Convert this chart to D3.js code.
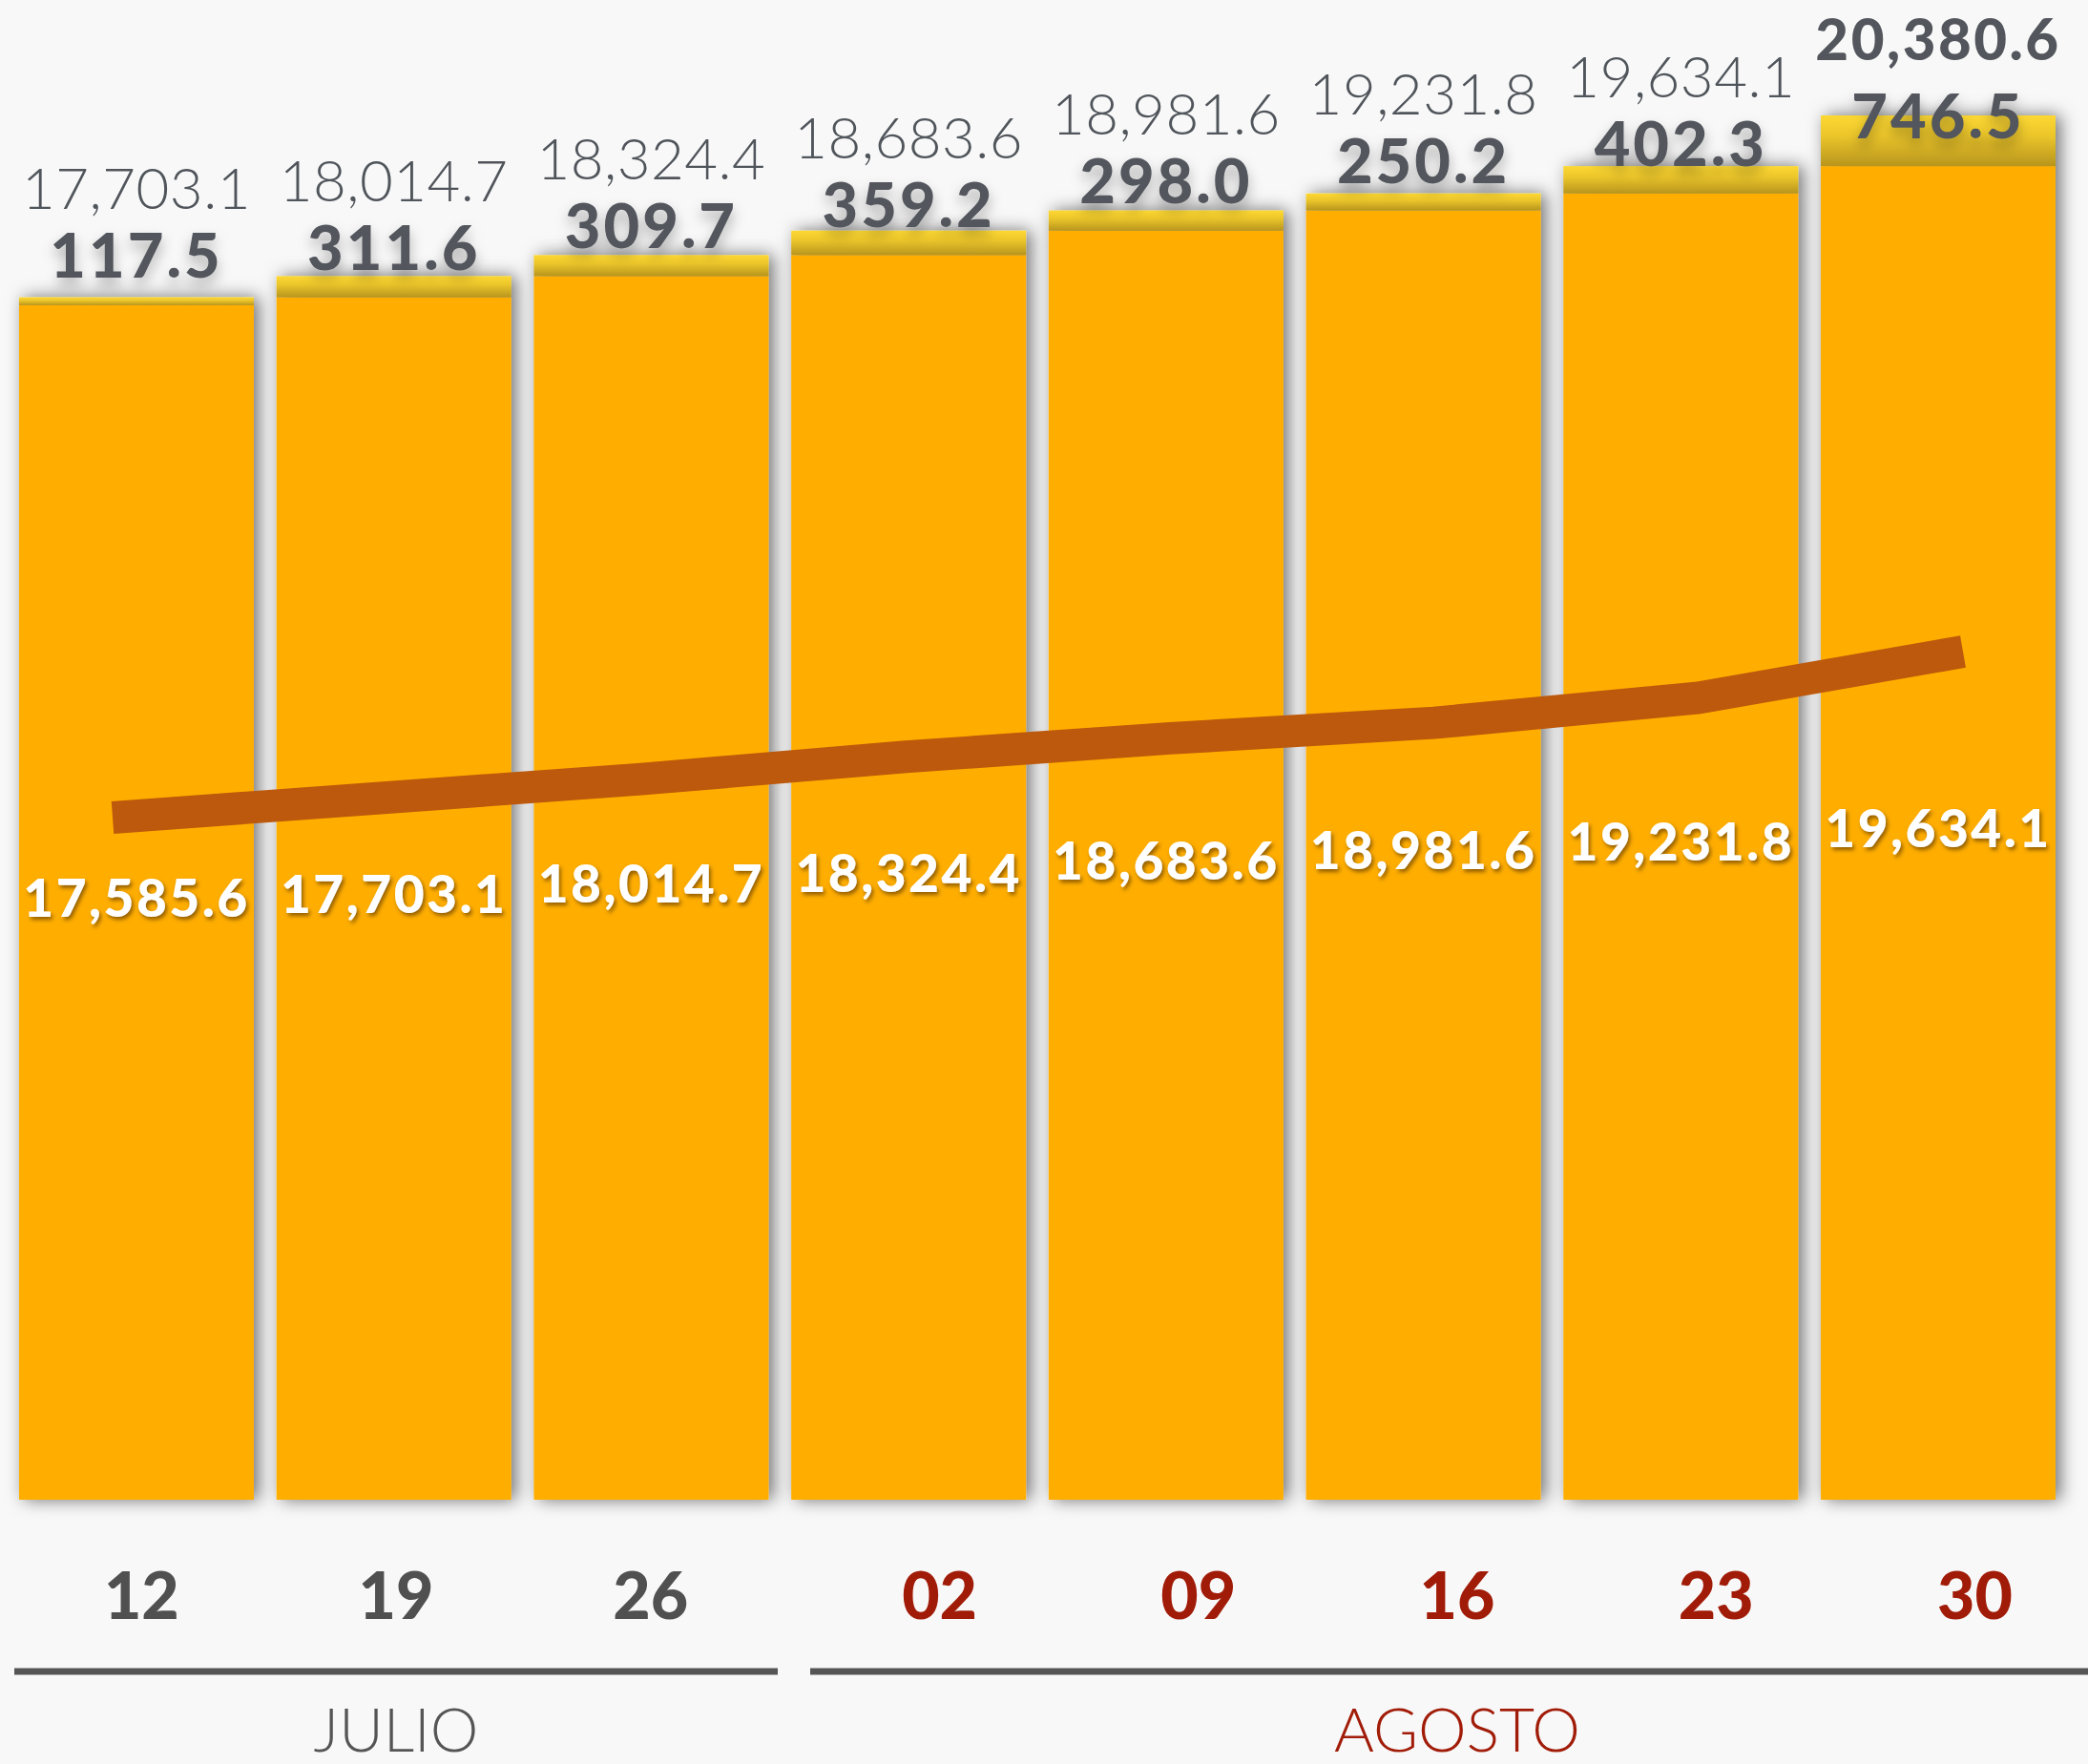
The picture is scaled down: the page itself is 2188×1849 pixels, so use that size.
<!DOCTYPE html>
<html>
<head>
<meta charset="utf-8">
<script src="https://cdn.jsdelivr.net/npm/d3@7/dist/d3.min.js"></script>
<style>
  html, body { margin: 0; padding: 0; background: #f8f8f8; }
  svg { display: block; }
  text { font-family: Lato, "Open Sans", sans-serif; }
</style>
</head>
<body>
<svg id="chart" width="2188" height="1849"></svg>
<script>
// weekly days (x categories)
const days = ['12', '19', '26', '02', '09', '16', '23', '30'];
const months = ['JULIO', 'AGOSTO'];
const monthDays = [['12', '19', '26'], ['02', '09', '16', '23', '30']];

// previous total (orange part), weekly increment (yellow part), new total
const baseValues = [17585.6, 17703.1, 18014.7, 18324.4, 18683.6, 18981.6, 19231.8, 19634.1];
const increments = [117.5, 311.6, 309.7, 359.2, 298.0, 250.2, 402.3, 746.5];
const totals = [17703.1, 18014.7, 18324.4, 18683.6, 18981.6, 19231.8, 19634.1, 20380.6];

const W = 2188, H = 1849;
const orange = '#ffae00';
const brown = '#bd590c';
const gray = '#53575d';
const red = '#a11c08';
const fmt = d3.format(',.1f');

const svg = d3.select('#chart');
svg.append('rect').attr('width', W).attr('height', H).attr('fill', '#f8f8f8');

const defs = svg.append('defs');

const barShadow = defs.append('filter').attr('id', 'barShadow')
    .attr('x', '-20%').attr('y', '-20%').attr('width', '140%').attr('height', '140%');
barShadow.append('feDropShadow')
    .attr('dx', 5).attr('dy', 0).attr('stdDeviation', 9)
    .attr('flood-color', '#000').attr('flood-opacity', 0.55);

const labelShadow = defs.append('filter').attr('id', 'labelShadow')
    .attr('x', '-20%').attr('y', '-30%').attr('width', '140%').attr('height', '180%');
labelShadow.append('feDropShadow')
    .attr('dx', 0).attr('dy', 8).attr('stdDeviation', 7)
    .attr('flood-color', '#000').attr('flood-opacity', 0.3);

const whiteShadow = defs.append('filter').attr('id', 'whiteShadow')
    .attr('x', '-10%').attr('y', '-20%').attr('width', '120%').attr('height', '150%');
whiteShadow.append('feDropShadow')
    .attr('dx', 2).attr('dy', 3).attr('stdDeviation', 2)
    .attr('flood-color', '#6b4300').attr('flood-opacity', 0.75);

const grad = defs.append('linearGradient').attr('id', 'yellowGrad')
    .attr('x1', 0).attr('y1', 0).attr('x2', 0).attr('y2', 1);
grad.append('stop').attr('offset', '0%').attr('stop-color', '#fdd832');
grad.append('stop').attr('offset', '40%').attr('stop-color', '#ecc62b');
grad.append('stop').attr('offset', '100%').attr('stop-color', '#b8951d');

// scales
const x = d3.scaleBand().domain(days).range([20, 2154]).paddingInner(0.088).paddingOuter(0);
const y = d3.scaleLinear().domain([0, d3.max(totals)]).range([1572, 121]);
// the trend line uses its own axis
const xLine = d3.scalePoint().domain(days).range([118, 2057]);
const yLine = d3.scaleLinear().domain(d3.extent(totals)).range([857, 683]);

const rows = days.map((d, i) => ({
    day: d, base: baseValues[i], inc: increments[i], total: totals[i], last: i === days.length - 1
}));

// bars
const bars = svg.append('g');
bars.selectAll('g.bar')
    .data(rows)
    .enter()
    .append('g')
    .attr('class', 'bar')
    .attr('filter', 'url(#barShadow)')
    .each(function (d) {
        const g = d3.select(this);
        g.append('rect')
            .attr('x', x(d.day))
            .attr('y', y(d.base))
            .attr('width', x.bandwidth())
            .attr('height', y(0) - y(d.base))
            .attr('fill', orange);
        g.append('rect')
            .attr('x', x(d.day))
            .attr('y', y(d.total))
            .attr('width', x.bandwidth())
            .attr('height', y(d.base) - y(d.total))
            .attr('fill', 'url(#yellowGrad)');
    });

// trend line
const line = d3.line()
    .x((d, i) => xLine(days[i]))
    .y(d => yLine(d));

svg.append('path')
    .datum(totals)
    .attr('d', line)
    .attr('fill', 'none')
    .attr('stroke', brown)
    .attr('stroke-width', 34)
    .attr('stroke-linecap', 'butt')
    .attr('stroke-linejoin', 'miter');

// labels inside the orange part
svg.append('g').selectAll('text')
    .data(rows)
    .enter()
    .append('text')
    .attr('x', d => x(d.day) + x.bandwidth() / 2)
    .attr('y', d => (y(d.base) + y(0)) / 2 + 15)
    .attr('text-anchor', 'middle')
    .attr('fill', '#fff')
    .attr('font-size', 55)
    .attr('font-weight', 900)
    .attr('letter-spacing', 2.5)
    .attr('filter', 'url(#whiteShadow)')
    .text(d => fmt(d.base));

// increment labels
svg.append('g').selectAll('text')
    .data(rows)
    .enter()
    .append('text')
    .attr('x', d => x(d.day) + x.bandwidth() / 2)
    .attr('y', d => y(d.base) - 29)
    .attr('text-anchor', 'middle')
    .attr('fill', gray)
    .attr('font-size', 65)
    .attr('font-weight', 900)
    .attr('letter-spacing', 3)
    .attr('filter', 'url(#labelShadow)')
    .text(d => fmt(d.inc));

// total labels
svg.append('g').selectAll('text')
    .data(rows)
    .enter()
    .append('text')
    .attr('x', d => x(d.day) + x.bandwidth() / 2)
    .attr('y', d => y(d.base) - 29 - (d.last ? 82 : 72))
    .attr('text-anchor', 'middle')
    .attr('fill', d => d.last ? gray : '#50555b')
    .attr('font-size', 60)
    .attr('font-weight', d => d.last ? 900 : 300)
    .attr('letter-spacing', d => d.last ? 2.5 : 0.5)
    .text(d => fmt(d.total));

// month groups with their day ticks
const groupExtents = [[15, 815], [849, 2205]];
const axisG = svg.append('g');
months.forEach((m, gi) => {
    const [x0, x1] = groupExtents[gi];
    const gx = d3.scaleBand().domain(monthDays[gi]).range([x0, x1]);
    const col = gi === 0 ? '#505050' : red;

    axisG.append('g').selectAll('text')
        .data(monthDays[gi])
        .enter()
        .append('text')
        .attr('x', d => gx(d) + gx.bandwidth() / 2)
        .attr('y', 1697)
        .attr('text-anchor', 'middle')
        .attr('fill', col)
        .attr('font-size', 68)
        .attr('font-weight', 900)
        .text(d => d);

    axisG.append('line')
        .attr('x1', x0).attr('x2', x1)
        .attr('y1', 1752).attr('y2', 1752)
        .attr('stroke', '#555555')
        .attr('stroke-width', 7);

    axisG.append('text')
        .attr('x', (x0 + x1) / 2)
        .attr('y', 1836)
        .attr('text-anchor', 'middle')
        .attr('fill', gi === 0 ? '#555555' : red)
        .attr('font-size', 64)
        .attr('font-weight', 300)
        .text(m);
});
</script>
</body>
</html>
